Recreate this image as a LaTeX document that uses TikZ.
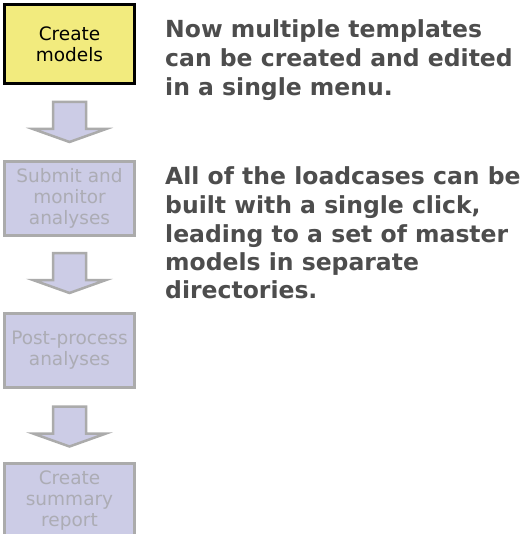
\documentclass[tikz,border=0pt]{standalone}
\usepackage{fontspec}
\setmainfont{DejaVu Sans}
\definecolor{lav}{HTML}{CCCCE6}
\definecolor{lavline}{HTML}{ABABAB}
\definecolor{lavtext}{HTML}{ACACB4}
\definecolor{yel}{HTML}{F2EB7E}
\definecolor{dtext}{HTML}{4D4D4D}
\usetikzlibrary{calc}
\tikzset{
  stepbox/.style={draw=lavline, fill=lav, line width=3pt, minimum width=130pt, minimum height=74pt,
    inner sep=0pt, align=center, text=lavtext, font=\fontsize{18.5}{21}\selectfont},
  activebox/.style={stepbox, draw=black, fill=yel, text=black, minimum height=79pt},
  blockarrow/.style={draw=lavline, fill=lav, line width=2.5pt, line join=miter},
  note/.style={anchor=base west, inner sep=0pt, text=dtext, font=\fontsize{23.5}{28.5}\selectfont\bfseries}
}
\newcommand{\downarrowblock}[1]{%
  \draw[blockarrow] ($(#1)+(-16.5,0)$) -- ($(#1)+(16.5,0)$) -- ($(#1)+(16.5,27)$) -- ($(#1)+(36.5,27)$)
    -- ($(#1)+(0,40)$) -- ($(#1)+(-36.5,27)$) -- ($(#1)+(-16.5,27)$) -- cycle;}
\begin{document}
\begin{tikzpicture}[x=1pt,y=-1pt]
\useasboundingbox (0,0) rectangle (528,534);
\clip (0,0) rectangle (528,534);
\node[activebox] (b1) at (69.5,44) {Create\\models};
\node[stepbox] (b2) at (69.5,198.5) {Submit and\\monitor\\analyses};
\node[stepbox] (b3) at (69.5,350) {Post-process\\analyses};
\node[stepbox] (b4) at (69.5,500.5) {Create\\summary\\report};
\coordinate (a1) at ($(b1.south)+(0,17)$);
\coordinate (a2) at ($(b2.south)+(0,16)$);
\coordinate (a3) at ($(b3.south)+(0,18)$);
\downarrowblock{a1}
\downarrowblock{a2}
\downarrowblock{a3}
\node[note] (t1) at (165,38) {Now multiple templates};
\node[note] (t2) at (165,67) {can be created and edited};
\node[note] (t3) at (165,96) {in a single menu.};
\node[note] (t4) at (165,185) {All of the loadcases can be};
\node[note] (t5) at (165,213.5) {built with a single click,};
\node[note] (t6) at (165,242) {leading to a set of master};
\node[note] (t7) at (165,270) {models in separate};
\node[note] (t8) at (165,298.5) {directories.};
\end{tikzpicture}
\end{document}
